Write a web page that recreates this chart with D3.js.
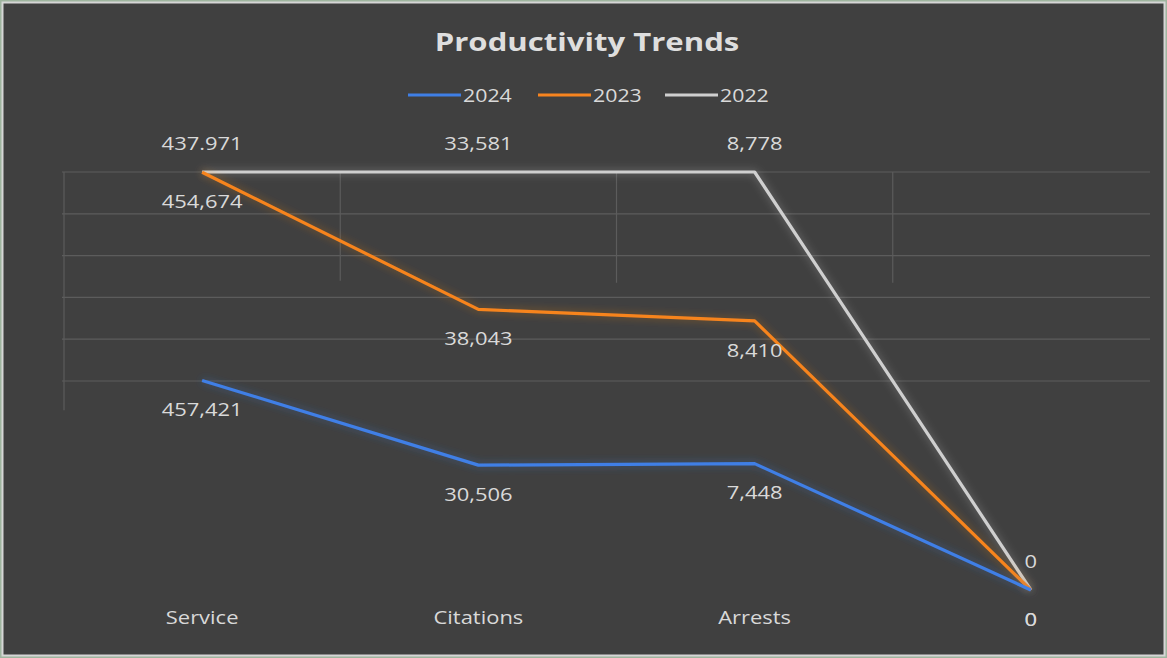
<!DOCTYPE html>
<html>
<head>
<meta charset="utf-8">
<script src="https://cdn.jsdelivr.net/npm/d3@7"></script>
<style>
  html, body { margin: 0; padding: 0; background: #9fb59f; }
  svg { display: block; }
</style>
</head>
<body>
<svg id="chart" width="1167" height="658"></svg>
<script>
// ---- data ----
const categories = ["Service", "Citations", "Arrests", ""];
const seriesNames = ["2024", "2023", "2022"];
const values2024 = [457421, 30506, 7448, 0];
const values2023 = [454674, 38043, 8410, 0];
const values2022 = [437.971, 33581, 8778, 0];
const gridTicks = [0.5, 0.6, 0.7, 0.8, 0.9, 1.0];

const seriesValues = [values2024, values2023, values2022];
const colors = ["#3f7fe6", "#f7841f", "#cfcfcf"];

const W = 1167, H = 658;
const svg = d3.select("#chart");

// glow filters
const defs = svg.append("defs");
colors.forEach((c, i) => {
  const f = defs.append("filter").attr("id", "glow" + i)
    .attr("x", "-20%").attr("y", "-20%").attr("width", "140%").attr("height", "140%");
  f.append("feGaussianBlur").attr("in", "SourceGraphic").attr("stdDeviation", 4).attr("result", "b");
  f.append("feComponentTransfer").attr("in", "b").attr("result", "b2")
    .append("feFuncA").attr("type", "linear").attr("slope", 0.45);
  const m = f.append("feMerge");
  m.append("feMergeNode").attr("in", "b2");
  m.append("feMergeNode").attr("in", "SourceGraphic");
});

// background
svg.append("rect").attr("x", 2.5).attr("y", 2.5).attr("width", W - 5).attr("height", H - 5)
  .attr("fill", "#404040").attr("stroke", "#d6d6d6").attr("stroke-width", 2);

// scales
const x = d3.scalePoint().domain(d3.range(categories.length)).range([64, 1169]).padding(0.5);
const y = d3.scaleLinear().domain([0, 1]).range([590, 172]);
const step = x.step();

// 100% stacked cumulative shares
const totals = categories.map((_, j) => d3.sum(seriesValues, s => s[j]));
const cumul = seriesValues.map((s, i) => s.map((v, j) => {
  const t = totals[j];
  if (!t) return 0;
  return d3.sum(seriesValues.slice(0, i + 1), ss => ss[j]) / t;
}));

// gridlines
const grid = svg.append("g").attr("stroke", "#5c5c5c").attr("stroke-width", 1.2);
grid.selectAll("line.h").data(gridTicks).join("line")
  .attr("x1", 62).attr("x2", 1150)
  .attr("y1", d => y(d)).attr("y2", d => y(d));
const bounds = d3.range(categories.length).map(j => x(j) - step / 2);
grid.selectAll("line.v").data(bounds).join("line")
  .attr("x1", d => d).attr("x2", d => d)
  .attr("y1", y(1))
  .attr("y2", (d, i) => i === 0 ? y(0.43) : (i === 1 ? y(0.74) : y(0.735)));

const textScale = 1.22;
function addText(g, tx, ty, str, size, weight, fill, anchor) {
  g.append("text")
    .attr("transform", `translate(${tx},${ty}) scale(${textScale},1)`)
    .attr("text-anchor", anchor || "middle")
    .attr("dominant-baseline", "central")
    .attr("font-family", "'Open Sans', sans-serif")
    .attr("font-size", size)
    .attr("font-weight", weight || "normal")
    .attr("fill", fill)
    .text(str);
}

// lines
const line = d3.line().x((d, j) => x(j)).y(d => y(d));
const order = [2, 1, 0];
order.forEach(i => {
  svg.append("path").datum(cumul[i])
    .attr("d", line)
    .attr("fill", "none")
    .attr("stroke", colors[i])
    .attr("stroke-width", 3.2)
    .attr("stroke-linejoin", "round")
    .attr("filter", `url(#glow${i})`);
});

// data labels
const fmt = d3.format(",");
const labels = svg.append("g");
seriesValues.forEach((s, i) => {
  s.forEach((v, j) => {
    const above = (i === 2);
    addText(labels, x(j), y(cumul[i][j]) + (above ? -29 : 29), fmt(v), 18, "normal", "#d9d9d9");
  });
});

// category labels
const cats = svg.append("g");
categories.forEach((c, j) => addText(cats, x(j), 617, c, 18, "normal", "#d9d9d9"));

// title
addText(svg, 587, 41, "Productivity Trends", 25.5, "bold", "#dedede");

// legend
const legend = svg.append("g");
const legendX = [408, 538, 665];
seriesNames.forEach((n, i) => {
  legend.append("line").attr("x1", legendX[i]).attr("x2", legendX[i] + 53)
    .attr("y1", 95).attr("y2", 95)
    .attr("stroke", colors[i]).attr("stroke-width", 3.2);
  addText(legend, legendX[i] + 55, 95, n, 17.5, "normal", "#d9d9d9", "start");
});
</script>
</body>
</html>
